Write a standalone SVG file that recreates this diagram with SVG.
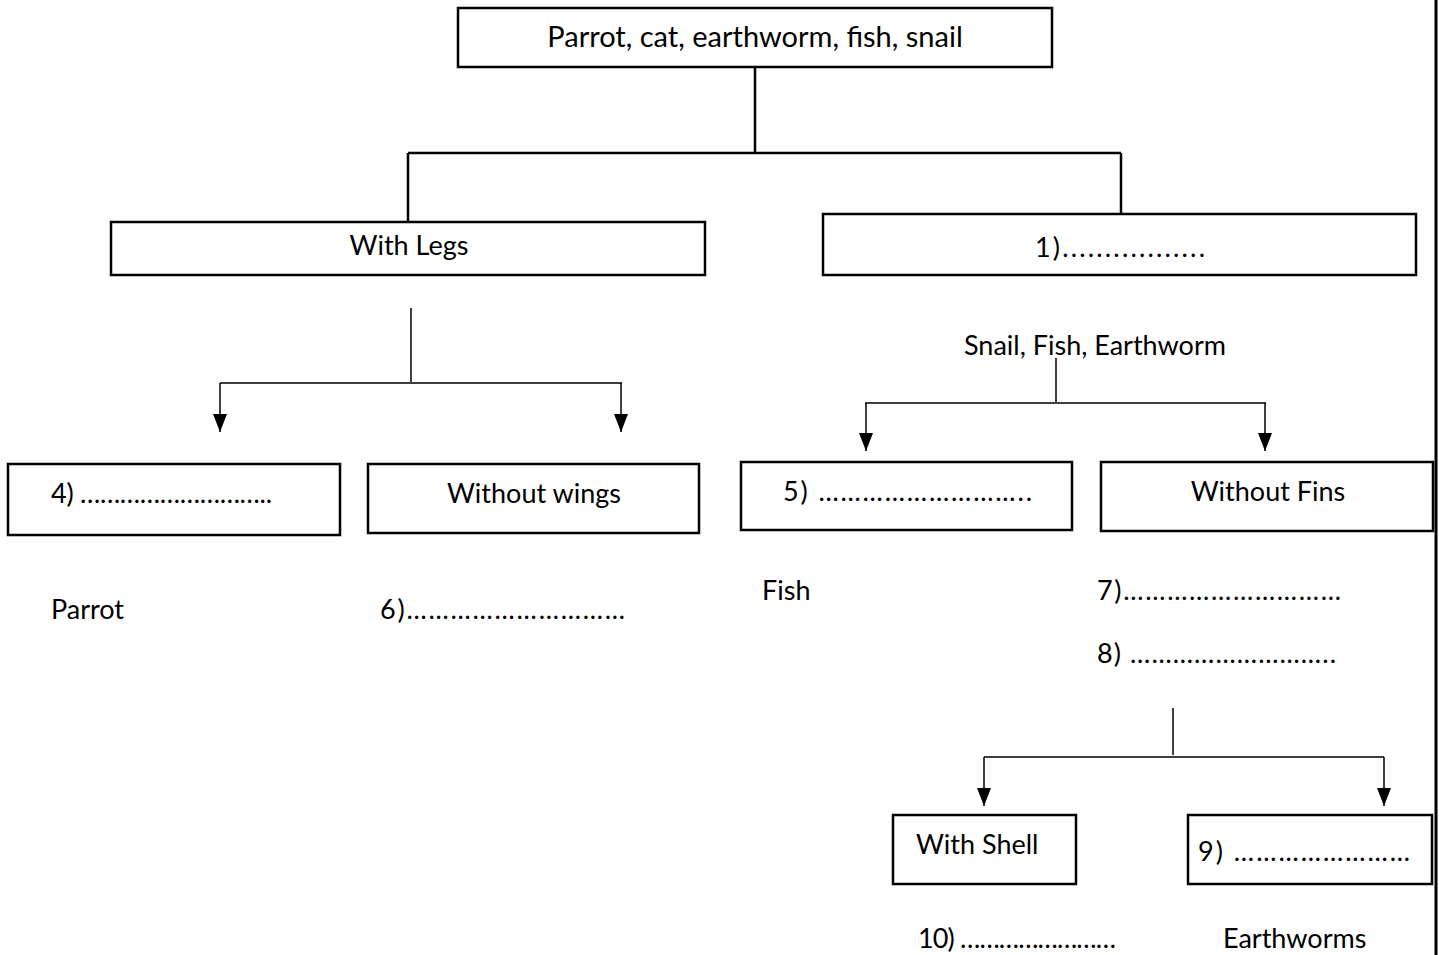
<svg xmlns="http://www.w3.org/2000/svg" width="1439" height="955" viewBox="0 0 1439 955">
<style>
.box{fill:#fff;stroke:#000;stroke-width:2.5}
.t{font-family:Lato,"Open Sans",sans-serif;font-size:27px;fill:#000}
.big{font-size:29px}
.c{fill:none;stroke:#000;stroke-width:2.5}
.a{fill:none;stroke:#000;stroke-width:1.5}
</style>
<defs>
<marker id="arr" viewBox="0 0 18 14" refX="18" refY="7" markerWidth="18" markerHeight="14" markerUnits="userSpaceOnUse" orient="auto">
<path d="M0,0 L18,7 L0,14 Z" fill="#000"/>
</marker>
</defs>
<rect width="1439" height="955" fill="#fff"/>
<line x1="1436" y1="0" x2="1436" y2="955" stroke="#000" stroke-width="3"/>
<g id="connectors">
<path class="c" d="M755,67 V153 M408,153 H1121 M408,153 V222 M1121,153 V214"/>
<path class="a" d="M411,308 V382 M220,383 H622"/>
<path class="a" d="M220,383 V432" marker-end="url(#arr)"/>
<path class="a" d="M621,383 V432" marker-end="url(#arr)"/>
<path class="a" d="M1056,358 V402 M865,403 H1266"/>
<path class="a" d="M866,403 V451" marker-end="url(#arr)"/>
<path class="a" d="M1265,403 V451" marker-end="url(#arr)"/>
<path class="a" d="M1173,708 V755 M984,757 H1384"/>
<path class="a" d="M984,757 V806" marker-end="url(#arr)"/>
<path class="a" d="M1384,757 V806" marker-end="url(#arr)"/>
</g>
<g id="root"><rect class="box" x="458" y="8" width="594" height="59"/><text class="t big" x="755" y="47" text-anchor="middle">Parrot, cat, earthworm, fish, snail</text></g>
<g id="withlegs"><rect class="box" x="111" y="222" width="594" height="53"/><text class="t" x="409" y="255" text-anchor="middle">With Legs</text></g>
<g id="q1"><rect class="box" x="823" y="214" width="593" height="61"/><text class="t" x="1035" y="257" textLength="170" lengthAdjust="spacing">1).................</text></g>
<g id="q4"><rect class="box" x="8" y="464" width="332" height="71"/><text class="t" x="51" y="503" textLength="221" lengthAdjust="spacing">4) ………………………..</text></g>
<g id="withoutwings"><rect class="box" x="368" y="464" width="331" height="69"/><text class="t" x="534" y="503" text-anchor="middle">Without wings</text></g>
<g id="q5"><rect class="box" x="741" y="462" width="331" height="68"/><text class="t" x="783" y="501" textLength="249" lengthAdjust="spacing">5) ………………………..</text></g>
<g id="withoutfins"><rect class="box" x="1101" y="462" width="332" height="69"/><text class="t" x="1268" y="501" text-anchor="middle">Without Fins</text></g>
<g id="withshell"><rect class="box" x="893" y="815" width="183" height="69"/><text class="t" x="916" y="854">With Shell</text></g>
<g id="q9"><rect class="box" x="1188" y="815" width="244" height="69"/><text class="t" x="1198" y="861" textLength="212" lengthAdjust="spacing">9) ……………………</text></g>
<g id="labels">
<text class="t" x="1095" y="355" text-anchor="middle">Snail, Fish, Earthworm</text>
<text class="t" x="51" y="619">Parrot</text>
<text class="t" x="380" y="619" textLength="245" lengthAdjust="spacing">6)…………………………</text>
<text class="t" x="762" y="600">Fish</text>
<text class="t" x="1097" y="600" textLength="244" lengthAdjust="spacing">7)…………………………</text>
<text class="t" x="1097" y="663" textLength="239" lengthAdjust="spacing">8) ………………………..</text>
<text class="t" x="918" y="948" textLength="198" lengthAdjust="spacing">10) ……………………</text>
<text class="t" x="1223" y="948">Earthworms</text>
</g>
</svg>
